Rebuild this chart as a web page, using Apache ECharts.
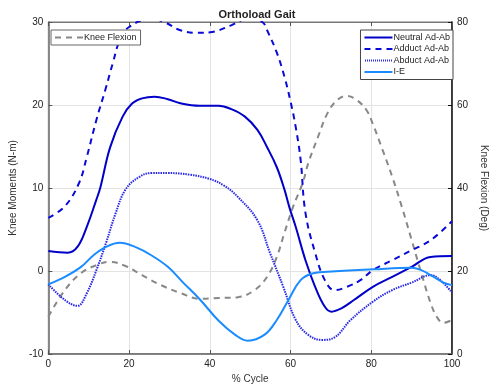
<!DOCTYPE html>
<html><head><meta charset="utf-8">
<script src="https://cdn.jsdelivr.net/npm/echarts@6/dist/echarts.min.js"></script>
<style>html,body{margin:0;padding:0;background:#fff}#c{width:497px;height:390px}</style>
</head><body><div id="c"></div>
<script>
const titleText = 'Orthoload Gait';
const xTicks = [0, 20, 40, 60, 80, 100];
const leftTicks = [-10, 0, 10, 20, 30];
const rightTicks = [0, 20, 40, 60, 80];

const neutralX = [0,4.8,7.2,9.5,11.9,12.9,15.3,18.4,20.8,23.2,26.3,29.6,32.7,37.5,42.2,45.3,48.7,51.8,54.2,56.6,58.5,59.7,61.3,63.7,66.1,68.5,70.2,72.6,75.7,80.4,85.2,90.0,94.7,100];
const neutralY = [2.4,2.2,2.9,5.3,8.6,10.1,14.9,18.6,20.2,20.8,21.0,20.7,20.2,19.9,19.9,19.5,18.6,17.0,14.9,12.5,9.8,7.7,5.3,1.3,-1.9,-4.3,-4.9,-4.5,-3.5,-1.9,-0.7,0.5,1.7,1.8];

const adductX = [0,4.1,7.6,9.5,11.9,14.1,16.0,17.7,20.0,25.5,29.1,32.7,36.8,40.6,45.3,49.4,53.0,54.2,56.6,58.5,60.1,61.3,62.5,63.7,66.1,68.5,70.9,74.0,77.3,80.4,85.2,90.0,94.7,100];
const adductY = [6.4,7.8,10.6,13.7,18.2,21.8,25.1,27.8,29.4,30.4,29.9,29.0,28.7,28.8,29.6,30.4,30.0,29.0,26.3,23.4,20.2,17.3,13.4,7.0,2.2,-1.1,-2.3,-1.9,-1.1,0.1,1.3,2.5,3.7,6.0];

const abductX = [0,4.1,7.2,9.5,11.9,14.3,16.7,19.1,22.4,25.5,29.6,35.1,39.9,43.5,47.0,51.8,54.9,58.2,61.3,64.4,67.8,70.9,74.9,80.4,85.2,90.0,94.7,97.1,100];
const abductY = [-1.6,-3.5,-4.2,-2.7,0.1,3.4,7.0,9.8,11.3,11.8,11.8,11.6,11.1,10.3,8.9,6.1,2.2,-1.9,-5.9,-7.7,-8.3,-8.0,-5.9,-3.7,-2.3,-1.4,-0.5,-1.1,-2.6];

const ieX = [0,4.1,8.1,11.2,14.3,17.7,21.5,25.5,29.6,33.4,37.5,42.2,46.3,49.4,53.5,56.6,59.7,62.5,65.4,69.2,80.4,90.0,92.4,94.7,97.9,100];
const ieY = [-1.6,-0.7,0.5,1.9,2.9,3.4,2.9,1.9,0.5,-1.4,-3.4,-6.0,-7.7,-8.4,-7.7,-5.9,-3.3,-1.1,-0.3,-0.1,0.2,0.4,0.1,-0.5,-1.4,-1.7];

const kneeX = [0,4.1,8.1,11.9,15.3,19.1,23.2,27.9,32.7,37.5,42.2,47.0,51.1,54.2,56.6,58.5,60.6,63.0,64.4,66.8,69.2,71.6,74.0,76.4,78.8,80.4,82.8,85.2,87.6,90.0,92.4,94.7,96.4,97.9,100];
const kneeY = [9.0,15.4,19.5,21.4,22.2,21.2,19.0,16.6,14.7,13.3,13.5,13.7,15.4,18.6,23.4,29.2,35.4,41.2,46.0,52.3,58.1,61.2,62.2,61.2,58.8,55.4,49.2,42.7,35.4,27.5,19.5,12.3,8.7,7.5,8.2];

const zip = (xs, ys) => xs.map((x, i) => [x, ys[i]]);
const font = 'Liberation Sans, Arial, sans-serif';

const solidIcon = 'path://M0,0h28v2h-28z';
const dashIcon = 'path://M0,0h6v2h-6zM11,0h6v2h-6zM22,0h6v2h-6z';
let dotPath = 'path://';
for (let i = 0; i < 14; i++) dotPath += 'M' + (i * 2) + ',0h1v2h-1z';
const dotIcon = dotPath;

const chart = echarts.init(document.getElementById('c'), null, {renderer: 'canvas'});
const gridLine = {show: true, lineStyle: {color: '#e3e3e3', width: 1}};
const legendText = {fontFamily: font, fontSize: 9, color: '#222', padding: [0, 0, 0, -4]};
chart.setOption({
  animation: false,
  backgroundColor: '#fff',
  title: {text: titleText, left: 252, textAlign: 'center', top: 4,
    textStyle: {fontFamily: font, fontSize: 11, fontWeight: 'bold', color: '#222'}},
  grid: {left: 43, right: 35, top: 22, bottom: 36, show: true, borderColor: '#777', borderWidth: 1},
  legend: [
    {data: [{name: 'Knee Flexion', icon: dashIcon}], left: 51, top: 30, orient: 'vertical',
      backgroundColor: '#fff', borderColor: '#666', borderWidth: 1, padding: [3, 4, 3, 4],
      itemWidth: 28, itemHeight: 2, itemGap: 2, textStyle: legendText},
    {data: [{name: 'Neutral Ad-Ab', icon: solidIcon}, {name: 'Adduct Ad-Ab', icon: dashIcon},
            {name: 'Abduct Ad-Ab', icon: dotIcon}, {name: 'I-E', icon: solidIcon}],
      right: 44, top: 30, orient: 'vertical',
      backgroundColor: '#fff', borderColor: '#444', borderWidth: 1, padding: [3, 3, 3, 4],
      itemWidth: 28, itemHeight: 2, itemGap: 2.5, textStyle: legendText}
  ],
  xAxis: [
    {type: 'value', min: 0, max: 100, interval: 20, position: 'bottom',
      name: '% Cycle', nameLocation: 'middle', nameGap: 19,
      nameTextStyle: {fontFamily: font, fontSize: 10, color: '#333'},
      axisLine: {show: true, onZero: false, lineStyle: {color: '#666', width: 1.5}},
      axisTick: {show: true, inside: true, length: 4, lineStyle: {color: '#555'}},
      axisLabel: {fontFamily: font, fontSize: 10, color: '#222', margin: 5},
      splitLine: gridLine},
    {type: 'value', min: 0, max: 100, interval: 20, position: 'top',
      axisLine: {show: true, onZero: false, lineStyle: {color: '#777', width: 1}},
      axisTick: {show: true, inside: true, length: 4, lineStyle: {color: '#555'}},
      axisLabel: {show: false}, splitLine: {show: false}}
  ],
  yAxis: [
    {type: 'value', min: -10, max: 30, interval: 10, position: 'left',
      name: 'Knee Moments (N-m)', nameLocation: 'middle', nameGap: 22,
      nameTextStyle: {fontFamily: font, fontSize: 10, color: '#333'},
      axisLine: {show: true, onZero: false, lineStyle: {color: '#666', width: 1.5}},
      axisTick: {show: true, inside: true, length: 4, lineStyle: {color: '#555'}},
      axisLabel: {fontFamily: font, fontSize: 10, color: '#222', margin: 5},
      splitLine: gridLine},
    {type: 'value', min: 0, max: 80, interval: 20, position: 'right',
      name: 'Knee Flexion (Deg)', nameLocation: 'middle', nameGap: 22, nameRotate: -90,
      nameTextStyle: {fontFamily: font, fontSize: 10, color: '#333'},
      axisLine: {show: true, onZero: false, lineStyle: {color: '#111', width: 1.5}},
      axisTick: {show: true, inside: true, length: 4, lineStyle: {color: '#111'}},
      axisLabel: {fontFamily: font, fontSize: 10, color: '#222', margin: 5},
      splitLine: {show: false}}
  ],
  series: [
    {name: 'Knee Flexion', type: 'line', yAxisIndex: 1, smooth: 0.4, symbol: 'none', data: zip(kneeX, kneeY),
      lineStyle: {color: '#888', width: 2, type: [6, 5]}, itemStyle: {color: '#888'}, z: 1},
    {name: 'Neutral Ad-Ab', type: 'line', smooth: 0.4, symbol: 'none', data: zip(neutralX, neutralY),
      lineStyle: {color: '#0000c8', width: 2}, itemStyle: {color: '#0000c8'}, z: 3},
    {name: 'Adduct Ad-Ab', type: 'line', smooth: 0.4, symbol: 'none', data: zip(adductX, adductY),
      lineStyle: {color: '#0a0ad8', width: 2, type: [6, 5]}, itemStyle: {color: '#0a0ad8'}, z: 3},
    {name: 'Abduct Ad-Ab', type: 'line', smooth: 0.4, symbol: 'none', data: zip(abductX, abductY),
      lineStyle: {color: '#2828e6', width: 2, type: [1.5, 1]}, itemStyle: {color: '#2828e6'}, z: 3},
    {name: 'I-E', type: 'line', smooth: 0.4, symbol: 'none', data: zip(ieX, ieY),
      lineStyle: {color: '#1a8cff', width: 2}, itemStyle: {color: '#1a8cff'}, z: 3}
  ]
});
</script></body></html>
